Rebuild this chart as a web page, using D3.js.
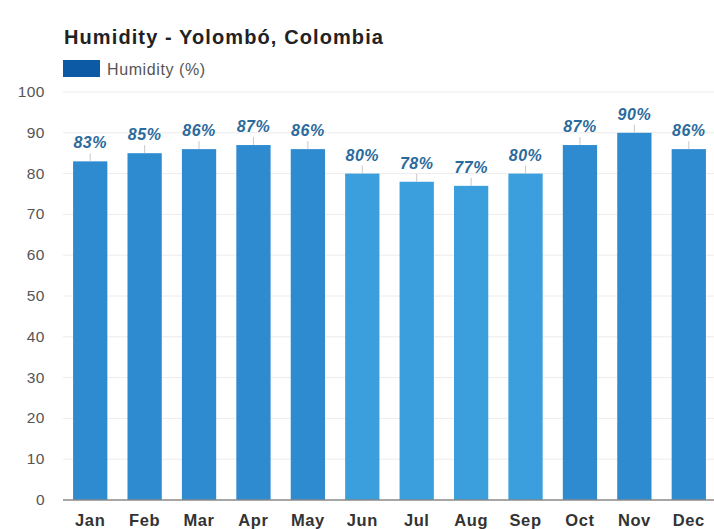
<!DOCTYPE html>
<html>
<head>
<meta charset="utf-8">
<script src="https://cdn.jsdelivr.net/npm/d3@7"></script>
<style>
  body { margin: 0; background: #fff; }
  text { font-family: "Liberation Sans", Arial, sans-serif; }
</style>
</head>
<body>
<div id="viz"></div>
<script>
// chart data
const months = ["Jan", "Feb", "Mar", "Apr", "May", "Jun", "Jul", "Aug", "Sep", "Oct", "Nov", "Dec"]
const humidity = [83, 85, 86, 87, 86, 80, 78, 77, 80, 87, 90, 86]
const yTicks = [0, 10, 20, 30, 40, 50, 60, 70, 80, 90, 100]
const drySeason = ["Jun", "Jul", "Aug", "Sep"]

const width = 714
const height = 529

const svg = d3.select("#viz").append("svg")
  .attr("width", width)
  .attr("height", height)

const x = d3.scaleBand()
  .domain(months)
  .range([63, 716])
  .paddingInner(0.37)
  .paddingOuter(0.185)

const y = d3.scaleLinear()
  .domain([0, 100])
  .range([500, 92])

// grid lines
svg.append("g")
  .selectAll("line")
  .data(yTicks.filter(d => d > 0))
  .enter()
  .append("line")
    .attr("x1", 63)
    .attr("x2", width)
    .attr("y1", d => y(d))
    .attr("y2", d => y(d))
    .attr("stroke", "#ececec")

// y labels
svg.append("g")
  .selectAll("text")
  .data(yTicks)
  .enter()
  .append("text")
    .attr("x", 45)
    .attr("y", d => y(d) + 5)
    .attr("text-anchor", "end")
    .attr("font-size", 15.5)
    .attr("letter-spacing", 0.5)
    .attr("fill", "#555")
    .text(d => d)

// bars
svg.append("g")
  .selectAll("rect")
  .data(humidity)
  .enter()
  .append("rect")
    .attr("x", (d, i) => x(months[i]))
    .attr("y", d => y(d))
    .attr("width", x.bandwidth())
    .attr("height", d => y(0) - y(d))
    .attr("fill", (d, i) => drySeason.includes(months[i]) ? "#3a9fdc" : "#2f8bd0")

// little ticks above bars
svg.append("g")
  .selectAll("line")
  .data(humidity)
  .enter()
  .append("line")
    .attr("x1", (d, i) => x(months[i]) + x.bandwidth() / 2)
    .attr("x2", (d, i) => x(months[i]) + x.bandwidth() / 2)
    .attr("y1", d => y(d))
    .attr("y2", d => y(d) - 8)
    .attr("stroke", "#c8c8c8")

// value labels
svg.append("g")
  .selectAll("text")
  .data(humidity)
  .enter()
  .append("text")
    .attr("x", (d, i) => x(months[i]) + x.bandwidth() / 2)
    .attr("y", d => y(d) - 13)
    .attr("text-anchor", "middle")
    .attr("font-size", 16)
    .attr("letter-spacing", 0.5)
    .attr("font-weight", "bold")
    .attr("font-style", "italic")
    .attr("fill", "#2b6a9c")
    .text(d => d + "%")

// x axis line
svg.append("line")
  .attr("x1", 63)
  .attr("x2", width)
  .attr("y1", y(0))
  .attr("y2", y(0))
  .attr("stroke", "#888")
  .attr("stroke-width", 1.5)

// month labels
svg.append("g")
  .selectAll("text")
  .data(months)
  .enter()
  .append("text")
    .attr("x", d => x(d) + x.bandwidth() / 2)
    .attr("y", 526)
    .attr("text-anchor", "middle")
    .attr("font-size", 16.5)
    .attr("letter-spacing", 0.6)
    .attr("font-weight", "bold")
    .attr("fill", "#333")
    .text(d => d)

// title
svg.append("text")
  .attr("x", 64)
  .attr("y", 44)
  .attr("font-size", 20)
  .attr("letter-spacing", 1.1)
  .attr("font-weight", "bold")
  .attr("fill", "#222")
  .text("Humidity - Yolombó, Colombia")

// legend
svg.append("rect")
  .attr("x", 63)
  .attr("y", 60)
  .attr("width", 37)
  .attr("height", 17)
  .attr("fill", "#0c5aa6")

svg.append("text")
  .attr("x", 107)
  .attr("y", 75)
  .attr("font-size", 16)
  .attr("letter-spacing", 0.6)
  .attr("fill", "#555")
  .text("Humidity (%)")
</script>
</body>
</html>
